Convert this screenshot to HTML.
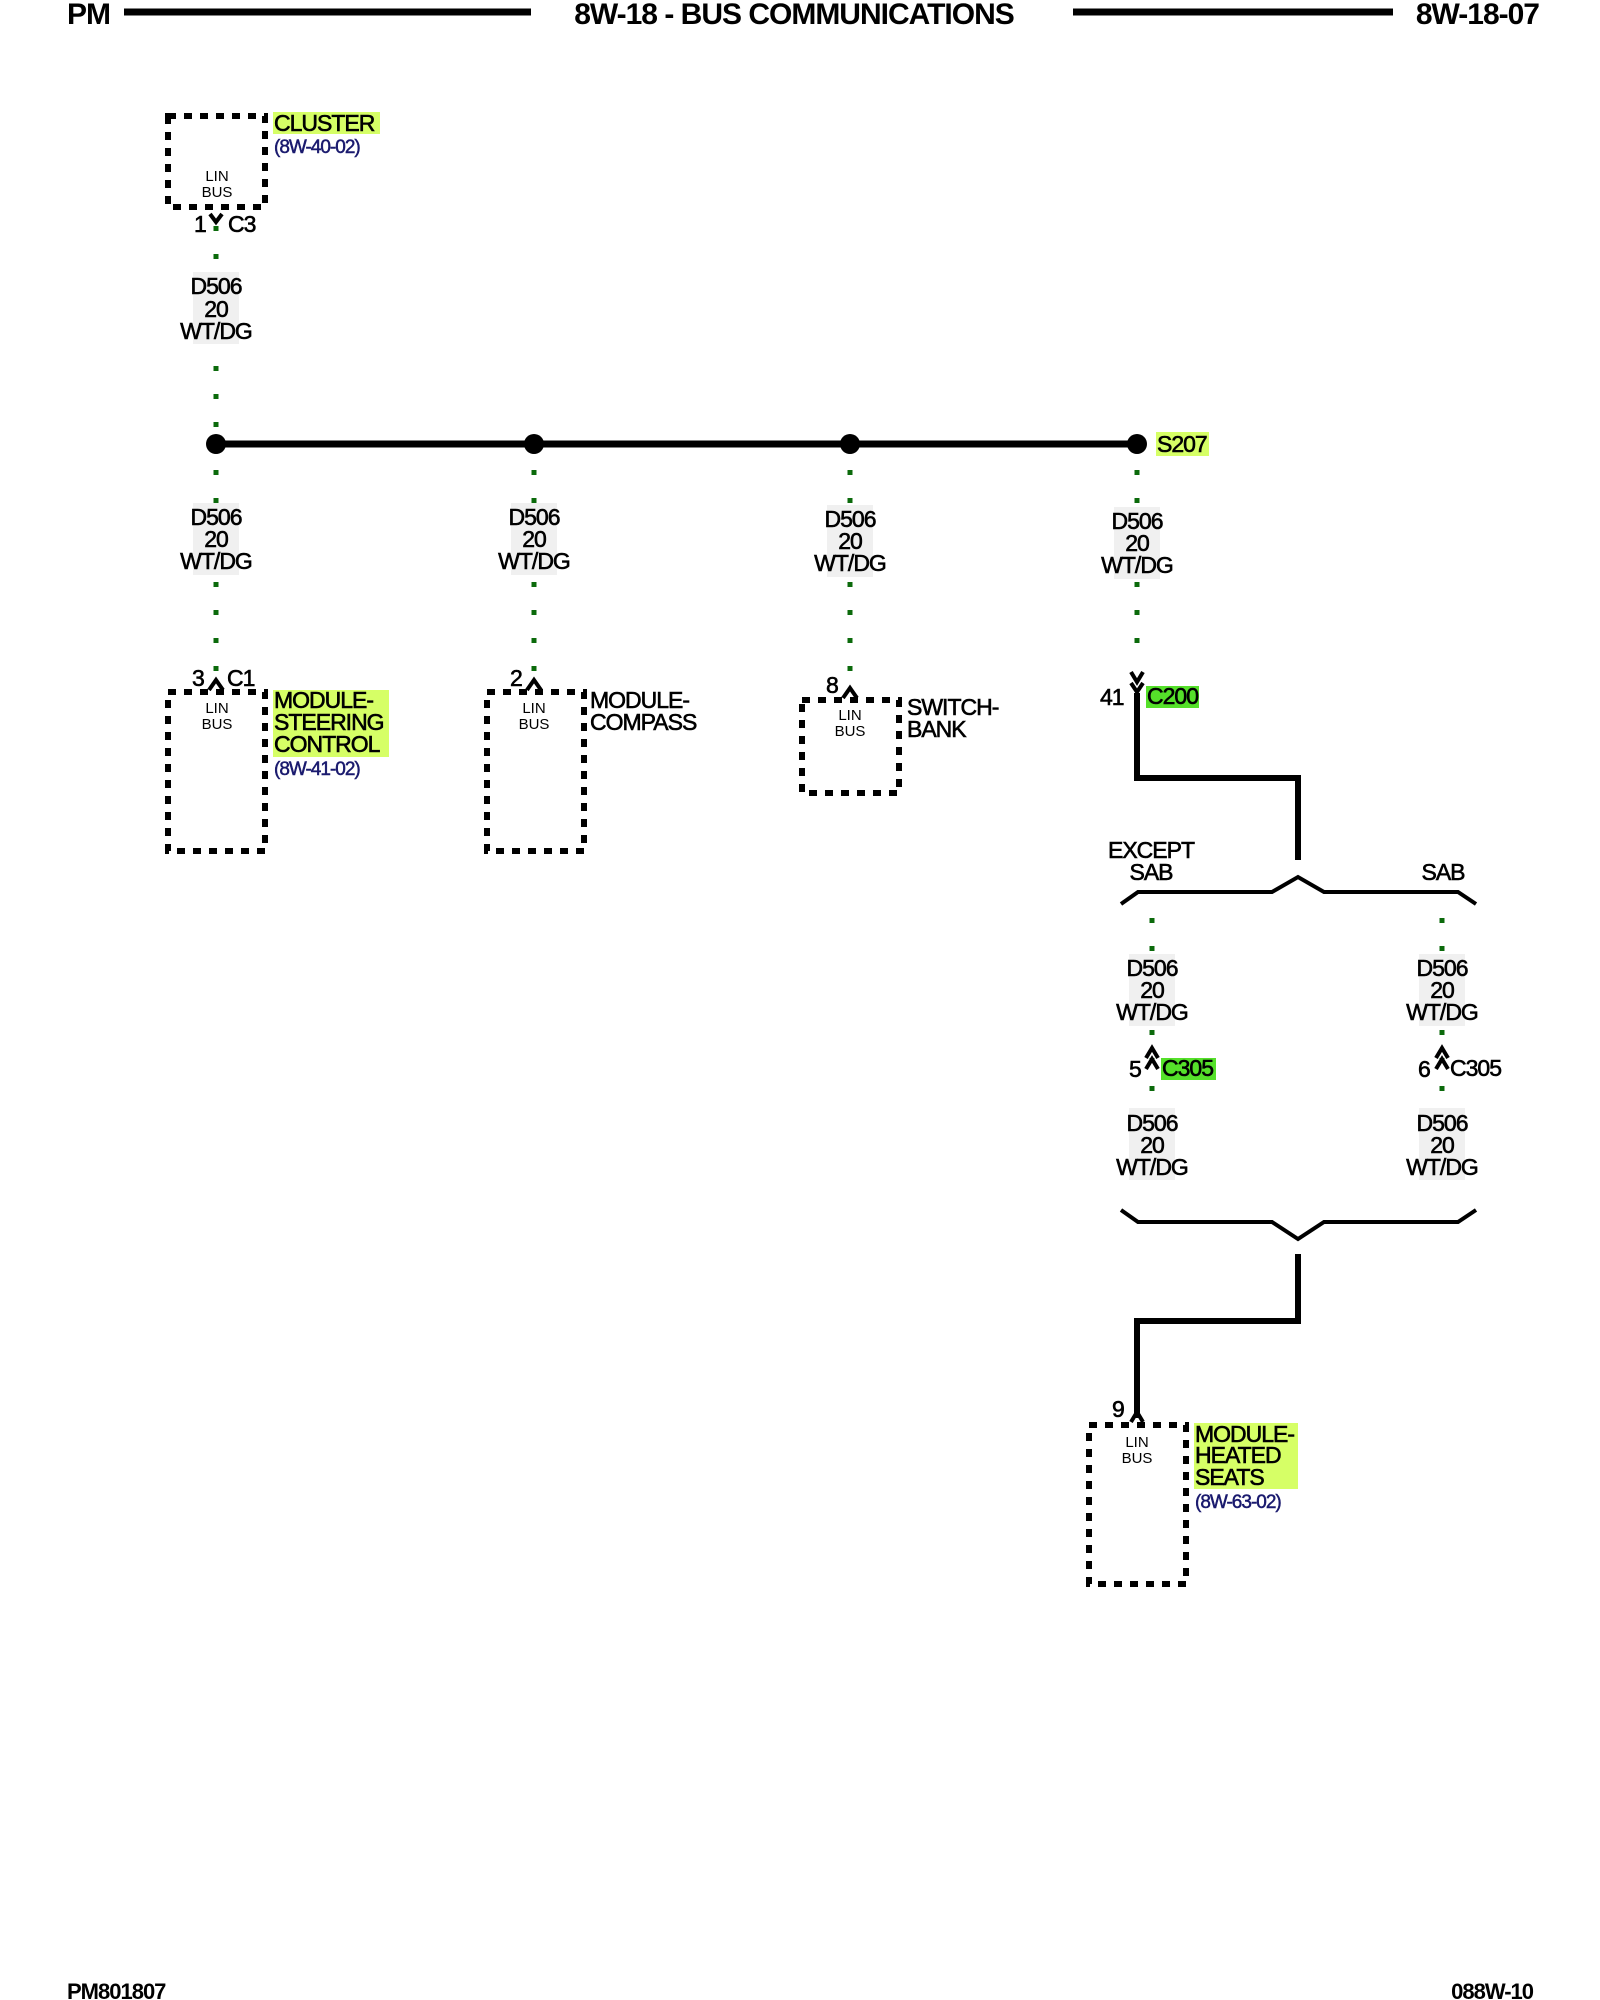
<!DOCTYPE html>
<html><head><meta charset="utf-8"><style>
html,body{margin:0;padding:0;background:#fff;}
svg{display:block;}
text{font-family:"Liberation Sans",Arial,sans-serif;letter-spacing:-1px;}
.t{font-size:23px;fill:#000;stroke:#000;stroke-width:0.6px;}
.s{font-size:15px;fill:#000;letter-spacing:0;}
.r{font-size:19px;fill:#1a1a6e;stroke:#1a1a6e;stroke-width:0.5px;}
.h{font-size:30px;fill:#000;font-weight:bold;}
.f{font-size:22px;fill:#000;font-weight:bold;}
.w{stroke:#0b6a0b;stroke-width:5;stroke-dasharray:5 23;fill:none;}
.box{stroke:#000;stroke-width:6;stroke-dasharray:8 8;fill:none;}
.thick{stroke:#000;stroke-width:6;fill:none;}
.br{stroke:#000;stroke-width:4;fill:none;}
</style></head><body>
<svg width="1600" height="2000" viewBox="0 0 1600 2000" xmlns="http://www.w3.org/2000/svg">
<text class="h" x="67" y="24">PM</text>
<line x1="124" y1="12" x2="531" y2="12" stroke="#000" stroke-width="7"/>
<text class="h" x="794" y="24" text-anchor="middle">8W-18 - BUS COMMUNICATIONS</text>
<line x1="1073" y1="12" x2="1393" y2="12" stroke="#000" stroke-width="7"/>
<text class="h" x="1539" y="24" text-anchor="end">8W-18-07</text>

<rect class="box" x="168" y="116" width="97" height="91"/>
<text class="s" x="217" y="181" text-anchor="middle">LIN</text>
<text class="s" x="217" y="197" text-anchor="middle">BUS</text>
<rect x="273" y="112" width="107" height="22" fill="#d6ff66"/>
<text class="t" x="274" y="131">CLUSTER</text>
<text class="r" x="274" y="153">(8W-40-02)</text>
<path d="M210 214 L216 222 L222 214" class="br" stroke-width="2"/>
<text class="t" x="194" y="232">1</text><text class="t" x="228" y="232">C3</text>
<line class="w" x1="216" y1="226" x2="216" y2="440"/>
<rect x="193" y="272" width="46" height="72" fill="#f0f0f0"/>
<text class="t" x="216" y="294" text-anchor="middle">D506</text>
<text class="t" x="216" y="317" text-anchor="middle">20</text>
<text class="t" x="216" y="339" text-anchor="middle">WT/DG</text>

<line x1="216" y1="444" x2="1137" y2="444" stroke="#000" stroke-width="7"/>
<circle cx="216" cy="444" r="10"/><circle cx="534" cy="444" r="10"/><circle cx="850" cy="444" r="10"/><circle cx="1137" cy="444" r="10"/>
<rect x="1156" y="432" width="53" height="24" fill="#d6ff66"/>
<text class="t" x="1157" y="452">S207</text>

<g>
<line class="w" x1="216" y1="470" x2="216" y2="676"/>
<line class="w" x1="534" y1="470" x2="534" y2="676"/>
<line class="w" x1="850" y1="470" x2="850" y2="680"/>
<line class="w" x1="1137" y1="470" x2="1137" y2="665"/>
<rect x="193" y="503" width="46" height="72" fill="#f0f0f0"/>
<rect x="511" y="503" width="46" height="72" fill="#f0f0f0"/>
<rect x="827" y="505" width="46" height="72" fill="#f0f0f0"/>
<rect x="1114" y="507" width="46" height="72" fill="#f0f0f0"/>
<text class="t" x="216" y="525" text-anchor="middle">D506</text><text class="t" x="216" y="547" text-anchor="middle">20</text><text class="t" x="216" y="569" text-anchor="middle">WT/DG</text>
<text class="t" x="534" y="525" text-anchor="middle">D506</text><text class="t" x="534" y="547" text-anchor="middle">20</text><text class="t" x="534" y="569" text-anchor="middle">WT/DG</text>
<text class="t" x="850" y="527" text-anchor="middle">D506</text><text class="t" x="850" y="549" text-anchor="middle">20</text><text class="t" x="850" y="571" text-anchor="middle">WT/DG</text>
<text class="t" x="1137" y="529" text-anchor="middle">D506</text><text class="t" x="1137" y="551" text-anchor="middle">20</text><text class="t" x="1137" y="573" text-anchor="middle">WT/DG</text>
</g>

<path d="M209 690 L216 680 L223 690" class="br" stroke-width="2"/>
<text class="t" x="192" y="686">3</text><text class="t" x="227" y="686">C1</text>
<rect class="box" x="168" y="692" width="97" height="159"/>
<text class="s" x="217" y="713" text-anchor="middle">LIN</text>
<text class="s" x="217" y="729" text-anchor="middle">BUS</text>
<rect x="273" y="690" width="116" height="67" fill="#d6ff66"/>
<text class="t" x="274" y="708">MODULE-</text>
<text class="t" x="274" y="730">STEERING</text>
<text class="t" x="274" y="752">CONTROL</text>
<text class="r" x="274" y="775">(8W-41-02)</text>

<path d="M527 690 L534 680 L541 690" class="br" stroke-width="2"/>
<text class="t" x="510" y="686">2</text>
<rect class="box" x="487" y="692" width="97" height="159"/>
<text class="s" x="534" y="713" text-anchor="middle">LIN</text>
<text class="s" x="534" y="729" text-anchor="middle">BUS</text>
<text class="t" x="590" y="708">MODULE-</text>
<text class="t" x="590" y="730">COMPASS</text>

<path d="M843 698 L850 688 L857 698" class="br" stroke-width="2"/>
<text class="t" x="826" y="693">8</text>
<rect class="box" x="802" y="700" width="97" height="93"/>
<text class="s" x="850" y="720" text-anchor="middle">LIN</text>
<text class="s" x="850" y="736" text-anchor="middle">BUS</text>
<text class="t" x="907" y="715">SWITCH-</text>
<text class="t" x="907" y="737">BANK</text>

<path d="M1131 672 L1137 682 L1143 672 M1131 683 L1137 692 L1143 683" class="br" stroke-width="2"/>
<text class="t" x="1100" y="705">41</text>
<rect x="1146" y="686" width="53" height="22" fill="#55e02a"/>
<text class="t" x="1147" y="704" fill="#2a9a10" stroke="#2a9a10">C200</text>
<path d="M1137 693 L1137 778 L1298 778 L1298 860" class="thick" stroke-width="7"/>

<path d="M1121 904 L1138 892 L1272 892 L1298 877 L1324 892 L1458 892 L1476 904" class="br"/>
<text class="t" x="1151" y="858" text-anchor="middle">EXCEPT</text>
<text class="t" x="1151" y="880" text-anchor="middle">SAB</text>
<text class="t" x="1443" y="880" text-anchor="middle">SAB</text>

<line class="w" x1="1152" y1="918" x2="1152" y2="1196"/>
<line class="w" x1="1442" y1="918" x2="1442" y2="1196"/>
<rect x="1129" y="954" width="46" height="72" fill="#f0f0f0"/>
<rect x="1419" y="954" width="46" height="72" fill="#f0f0f0"/>
<rect x="1129" y="1108" width="46" height="72" fill="#f0f0f0"/>
<rect x="1419" y="1108" width="46" height="72" fill="#f0f0f0"/>
<text class="t" x="1152" y="976" text-anchor="middle">D506</text><text class="t" x="1152" y="998" text-anchor="middle">20</text><text class="t" x="1152" y="1020" text-anchor="middle">WT/DG</text>
<text class="t" x="1442" y="976" text-anchor="middle">D506</text><text class="t" x="1442" y="998" text-anchor="middle">20</text><text class="t" x="1442" y="1020" text-anchor="middle">WT/DG</text>
<text class="t" x="1152" y="1131" text-anchor="middle">D506</text><text class="t" x="1152" y="1153" text-anchor="middle">20</text><text class="t" x="1152" y="1175" text-anchor="middle">WT/DG</text>
<text class="t" x="1442" y="1131" text-anchor="middle">D506</text><text class="t" x="1442" y="1153" text-anchor="middle">20</text><text class="t" x="1442" y="1175" text-anchor="middle">WT/DG</text>
<path d="M1146 1058 L1152 1048 L1158 1058 M1146 1069 L1152 1059 L1158 1069" class="br" stroke-width="2"/>
<path d="M1436 1058 L1442 1048 L1448 1058 M1436 1069 L1442 1059 L1448 1069" class="br" stroke-width="2"/>
<text class="t" x="1129" y="1077">5</text>
<rect x="1161" y="1058" width="55" height="22" fill="#55e02a"/>
<text class="t" x="1162" y="1076" fill="#2a9a10" stroke="#2a9a10">C305</text>
<text class="t" x="1418" y="1077">6</text>
<text class="t" x="1450" y="1076">C305</text>

<path d="M1121 1210 L1138 1222 L1272 1222 L1298 1239 L1324 1222 L1458 1222 L1476 1210" class="br"/>
<path d="M1298 1254 L1298 1321 L1137 1321 L1137 1418" class="thick" stroke-width="7"/>

<path d="M1131 1422 L1137 1412 L1143 1422" class="br" stroke-width="2"/>
<text class="t" x="1112" y="1417">9</text>
<rect class="box" x="1089" y="1425" width="97" height="159"/>
<text class="s" x="1137" y="1447" text-anchor="middle">LIN</text>
<text class="s" x="1137" y="1463" text-anchor="middle">BUS</text>
<rect x="1194" y="1423" width="104" height="66" fill="#d6ff66"/>
<text class="t" x="1195" y="1442">MODULE-</text>
<text class="t" x="1195" y="1463">HEATED</text>
<text class="t" x="1195" y="1485">SEATS</text>
<text class="r" x="1195" y="1508">(8W-63-02)</text>

<text class="f" x="67" y="1999">PM801807</text>
<text class="f" x="1533" y="1999" text-anchor="end">088W-10</text>
</svg>
</body></html>
